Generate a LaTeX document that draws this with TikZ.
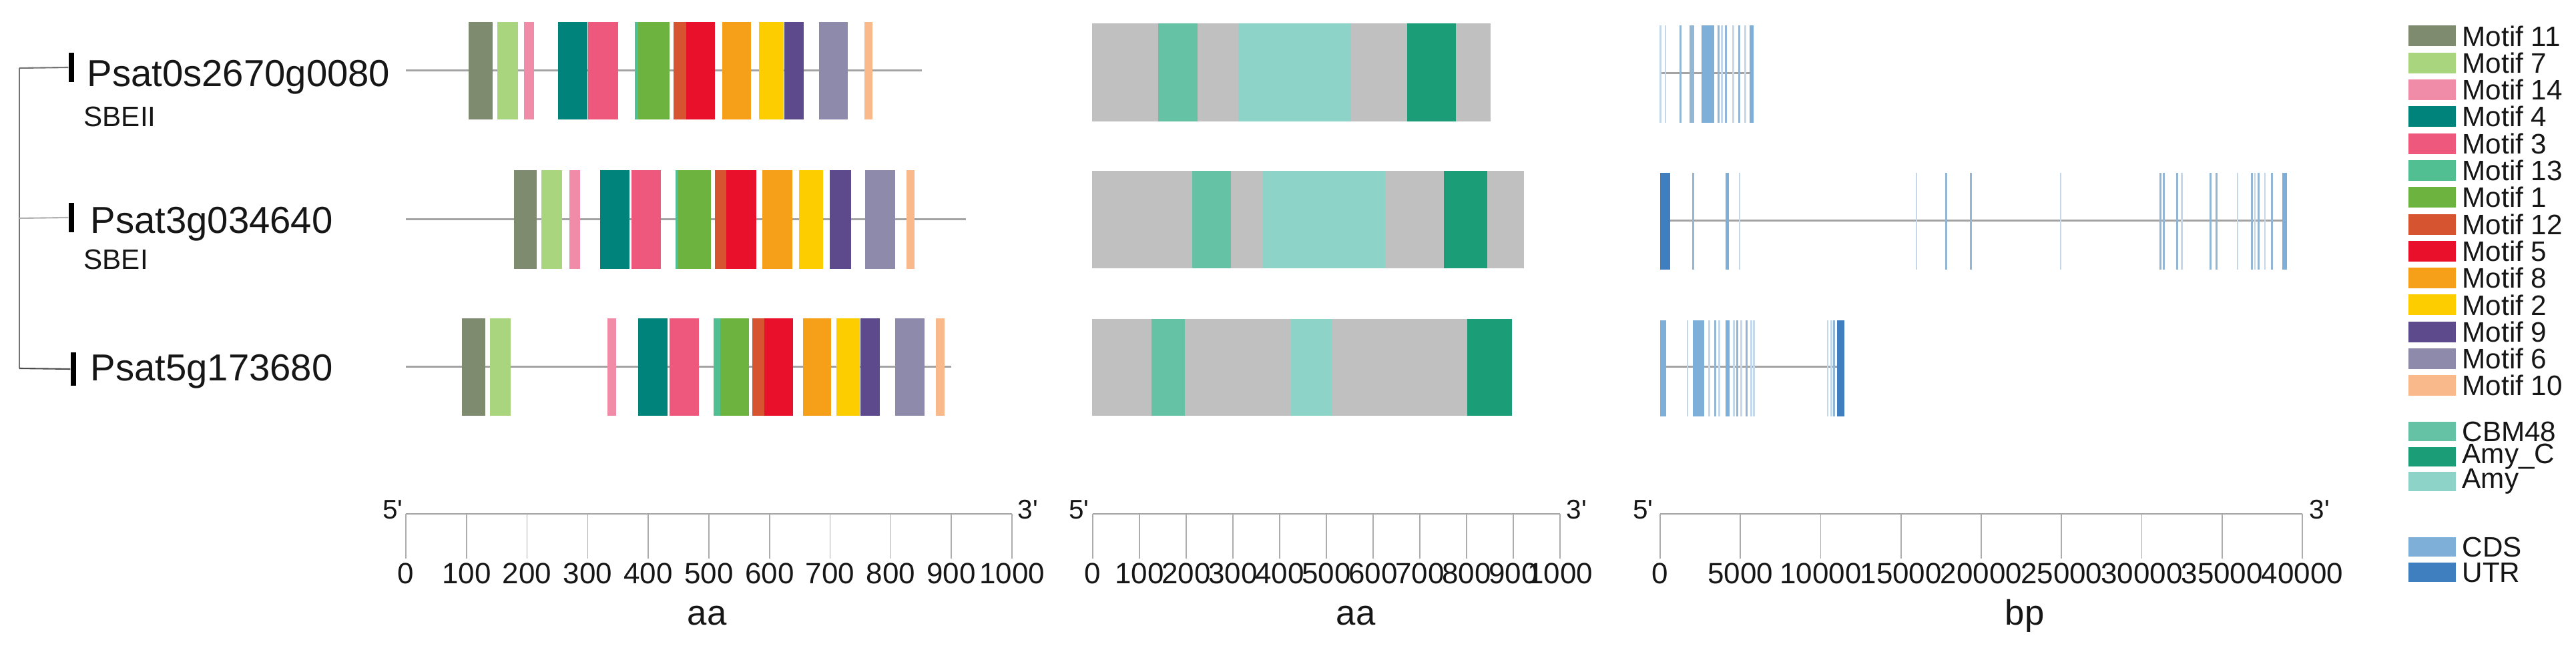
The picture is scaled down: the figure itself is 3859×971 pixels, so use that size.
\documentclass[tikz,border=0pt]{standalone}
\usepackage{fontspec}
\setmainfont{Liberation Sans}[Ligatures=TeXOff]
\definecolor{txt}{HTML}{161616}
\definecolor{m11}{HTML}{7F8B6E}
\definecolor{m7}{HTML}{A9D57F}
\definecolor{m14}{HTML}{F08BA8}
\definecolor{m4}{HTML}{00837A}
\definecolor{m3}{HTML}{EF587D}
\definecolor{m13}{HTML}{52BF93}
\definecolor{m1}{HTML}{6DB33F}
\definecolor{m12}{HTML}{D65430}
\definecolor{m5}{HTML}{E8102A}
\definecolor{m8}{HTML}{F6A01A}
\definecolor{m2}{HTML}{FDCD00}
\definecolor{m9}{HTML}{5C4A8C}
\definecolor{m6}{HTML}{8E8AAB}
\definecolor{m10}{HTML}{F9B98A}
\definecolor{cbm}{HTML}{66C2A5}
\definecolor{amyc}{HTML}{1B9E77}
\definecolor{amy}{HTML}{8DD3C7}
\definecolor{dgray}{HTML}{C0C0C0}
\definecolor{cds}{HTML}{7DAFD9}
\definecolor{utr}{HTML}{3F7FC0}
\definecolor{pale}{HTML}{C3D8EA}
\definecolor{med}{HTML}{93B6D4}
\definecolor{backbone}{HTML}{A3A3A3}
\begin{document}
\begin{tikzpicture}[x=0.01cm,y=-0.01cm,
  genelab/.style={font=\fontsize{16}{19}\selectfont, anchor=base west, inner sep=0, text=txt},
  sublab/.style={font=\fontsize{12}{14}\selectfont, anchor=base west, inner sep=0, text=txt},
  bar/.style={fill=black, draw=none, minimum width=0.08cm, minimum height=0.44cm, inner sep=0},
  treeline/.style={line width=0.6pt},
  rowline/.style={draw=backbone, line width=0.85pt},
  axisline/.style={draw=backbone, line width=0.7pt},
  tickline/.style={draw=backbone!90, line width=0.45pt},
  ticklab/.style={font=\fontsize{12.5}{14}\selectfont, anchor=base, inner sep=0, text=txt},
  endlab/.style={font=\fontsize{11.5}{13}\selectfont, inner sep=0, text=txt},
  unitlab/.style={font=\fontsize{15}{17}\selectfont, anchor=base, inner sep=0, text=txt},
  leglab/.style={font=\fontsize{12}{13}\selectfont, anchor=west, inner sep=0, text=txt}
]
\useasboundingbox (0,0) rectangle (3859,971);

% ---------------- tree ----------------
\coordinate (t1) at (29,102);
\coordinate (t2) at (29,327);
\coordinate (t3) at (29,552);
\node[bar] (b1) at (107,101) {};
\node[bar] (b2) at (107,326) {};
\node[bar, minimum height=0.5cm] (b3) at (110,553) {};
\draw[treeline, draw=black!55] (t1) -- (t3);
\draw[treeline, draw=black!55] (t1) -- (b1.west);
\draw[treeline, draw=black!30] (t2) -- (b2.west);
\draw[treeline, draw=black!70] (t3) -- (b3.west);

\node[genelab] (g1) at (130,130) {Psat0s2670g0080};
\node[sublab] (s1) at (125,190) {SBEII};
\node[genelab] (g2) at (135,350) {Psat3g034640};
\node[sublab] (s2) at (125,404) {SBEI};
\node[genelab] (g3) at (135,571) {Psat5g173680};

% ---------------- motif panel ----------------
\draw[rowline] (608,106) -- (1381,106);
\draw[rowline] (608,329) -- (1447,329);
\draw[rowline] (608,550) -- (1425,550);
\foreach \a/\b/\c in {702/738/m11, 745/776/m7, 785/800/m14, 836/880/m4, 881/926/m3, 951/956/m13, 956/1003/m1, 1009/1028/m12, 1028/1071/m5, 1082/1125/m8, 1137/1174/m2, 1175/1204/m9, 1227/1270/m6, 1295/1307/m10}
  \fill[\c] (\a,33) rectangle (\b,179);
\foreach \a/\b/\c in {770/804/m11, 811/842/m7, 853/869/m14, 899/943/m4, 946/990/m3, 1012/1016/m13, 1016/1065/m1, 1071/1088/m12, 1088/1133/m5, 1142/1187/m8, 1197/1233/m2, 1243/1275/m9, 1296/1341/m6, 1358/1370/m10}
  \fill[\c] (\a,255) rectangle (\b,403);
\foreach \a/\b/\c in {692/727/m11, 734/765/m7, 910/923/m14, 956/1000/m4, 1003/1047/m3, 1069/1079/m13, 1079/1122/m1, 1127/1145/m12, 1145/1188/m5, 1203/1245/m8, 1253/1288/m2, 1289/1318/m9, 1341/1385/m6, 1402/1415/m10}
  \fill[\c] (\a,477) rectangle (\b,623);

% ---------------- domain panel ----------------
\fill[dgray] (1636,35) rectangle (2233,182);
\fill[dgray] (1636,256) rectangle (2283,402);
\fill[dgray] (1636,478) rectangle (2265,623);
\foreach \a/\b/\c in {1735/1794/cbm, 1855/2024/amy, 2108/2181/amyc}
  \fill[\c] (\a,35) rectangle (\b,182);
\foreach \a/\b/\c in {1786/1844/cbm, 1892/2075/amy, 2163/2228/amyc}
  \fill[\c] (\a,256) rectangle (\b,402);
\foreach \a/\b/\c in {1725/1775/cbm, 1934/1995/amy, 2198/2265/amyc}
  \fill[\c] (\a,478) rectangle (\b,623);

% ---------------- gene structure panel ----------------
\draw[rowline] (2487,110) -- (2625,110);
\draw[rowline] (2487,331) -- (3425,331);
\draw[rowline] (2490,550) -- (2756,550);
\foreach \a/\w/\c in {2486/3/pale, 2494/2/pale, 2516/3/med, 2531/7/med, 2549/19/cds, 2573/3/med, 2578/3/pale, 2584/3/med, 2595/3/pale, 2604/3/med, 2613/3/pale, 2621/6/cds}
  \fill[\c] (\a,38) rectangle ({\a+\w},184);
\foreach \a/\w/\c in {2487/15/utr, 2535/3/med, 2585/5/cds, 2605/2/pale, 2870/2/pale, 2914/3/med, 2951/3/med, 3086/2/pale, 3235/3/med, 3240/3/med, 3260/3/med, 3267/3/pale, 3310/3/med, 3319/3/med, 3351/2/pale, 3372/3/med, 3377/2/pale, 3382/3/med, 3392/2/pale, 3402/3/med, 3419/7/cds}
  \fill[\c] (\a,259) rectangle ({\a+\w},404);
\foreach \a/\w/\c in {2487/9/cds, 2527/2/pale, 2536/17/cds, 2559/3/pale, 2568/3/med, 2574/3/pale, 2585/6/cds, 2596/3/pale, 2601/3/med, 2607/3/pale, 2615/3/med, 2622/3/pale, 2626/3/pale, 2737/2/pale, 2742/3/pale, 2746/3/med, 2752/11/utr}
  \fill[\c] (\a,480) rectangle ({\a+\w},624);

% ---------------- axes ----------------
% panel 1
\draw[axisline] (608,770) -- (1516,770);
\foreach \i [evaluate=\i as \v using int(100*\i)] in {0,...,10} {
  \draw[tickline] ({608+90.8*\i},770) -- ({608+90.8*\i},837);
  \node[ticklab] (pa\i) at ({608+90.8*\i},875) {\v};
}
\node[endlab, anchor=base east] (pa5p) at (604,778) {5'};
\node[endlab, anchor=base west] (pa3p) at (1524,778) {3'};
\node[unitlab] (pau) at (1059,937) {aa};
% panel 2
\draw[axisline] (1637,770) -- (2337,770);
\foreach \i [evaluate=\i as \v using int(100*\i)] in {0,...,10} {
  \draw[tickline] ({1637+70*\i},770) -- ({1637+70*\i},837);
  \node[ticklab] (pb\i) at ({1637+70*\i},875) {\v};
}
\node[endlab, anchor=base east] (pb5p) at (1632,778) {5'};
\node[endlab, anchor=base west] (pb3p) at (2346,778) {3'};
\node[unitlab] (pbu) at (2031,937) {aa};
% panel 3
\draw[axisline] (2487,770) -- (3449,770);
\foreach \i/\v in {0/0,1/5000,2/10000,3/15000,4/20000,5/25000,6/30000,7/35000,8/40000} {
  \draw[tickline] ({2487+120.25*\i},770) -- ({2487+120.25*\i},837);
  \node[ticklab] (pc\i) at ({2487+120.25*\i},875) {\v};
}
\node[endlab, anchor=base east] (pc5p) at (2477,778) {5'};
\node[endlab, anchor=base west] (pc3p) at (3459,778) {3'};
\node[unitlab] (pcu) at (3033,937) {bp};

% ---------------- legend ----------------
\foreach \c/\t [count=\k from 0] in {m11/Motif 11, m7/Motif 7, m14/Motif 14, m4/Motif 4, m3/Motif 3, m13/Motif 13, m1/Motif 1, m12/Motif 12, m5/Motif 5, m8/Motif 8, m2/Motif 2, m9/Motif 9, m6/Motif 6, m10/Motif 10} {
  \fill[\c] (3608,{54+40.3*\k-15.5}) rectangle (3679,{54+40.3*\k+15.5});
  \node[leglab] (lm\k) at (3688,{54+40.3*\k}) {\t};
}
\foreach \c/\t/\y [count=\k] in {cbm/CBM48/646.5, amyc/Amy\_C/684.5, amy/Amy/721.5, cds/CDS/820, utr/UTR/858} {
  \fill[\c] (3608,{\y-14.5}) rectangle (3679,{\y+14.5});
  \node[leglab] (ld\k) at (3688,\y) {\t};
}
\end{tikzpicture}
\end{document}
